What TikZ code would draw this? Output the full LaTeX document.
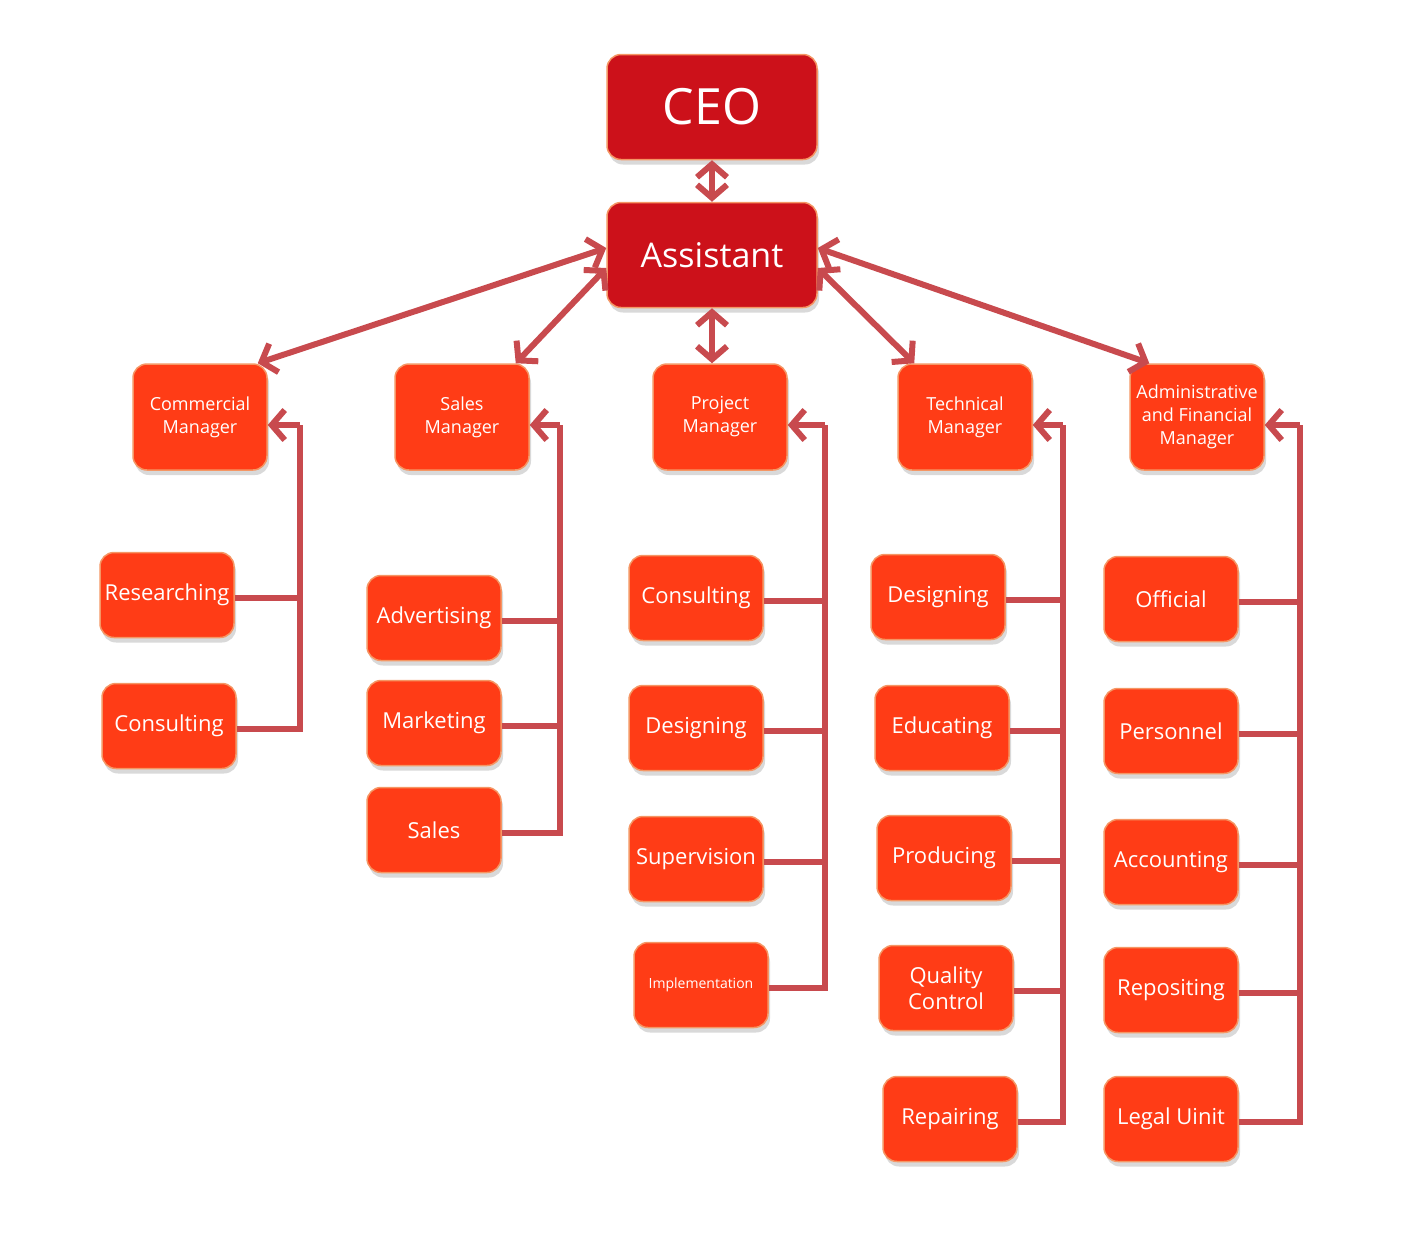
\documentclass[tikz,border=0pt]{standalone}
\usepackage{fontspec}
\setmainfont{Open Sans}
\usetikzlibrary{arrows.meta,shadows}
\definecolor{topred}{RGB}{204,17,26}
\definecolor{boxred}{RGB}{255,60,22}
\definecolor{rim}{RGB}{245,150,100}
\definecolor{linkred}{RGB}{200,74,78}
\tikzset{
  box/.style={draw=rim,line width=1.5pt,fill=boxred,text=white,rounded corners=14pt,
    align=center,inner sep=0pt,minimum width=134pt,minimum height=85pt,font=\fontsize{22}{26}\selectfont,
    drop shadow={shadow xshift=2pt,shadow yshift=-5pt,opacity=.25,fill=black!60}},
  mgr/.style={box,minimum height=106pt,font=\fontsize{18}{23}\selectfont},
  top/.style={box,fill=topred,minimum width=210pt,minimum height=105pt},
  link/.style={draw=linkred,line width=6pt},
  tip/.style={-{Straight Barb[length=13pt,width=30pt]}},
  both/.style={{Straight Barb[length=13pt,width=30pt]}-{Straight Barb[length=13pt,width=30pt]}}
}
\begin{document}
\begin{tikzpicture}[x=1pt,y=-1pt]
      \useasboundingbox (0,0) rectangle (1428,1235);
      % top of the chart
      \node[top,font=\fontsize{50}{56}\selectfont] (ceo) at (712,107) {CEO};
      \node[top,font=\fontsize{34}{40}\selectfont] (asst) at (712,255) {Assistant};
      % managers
      \node[mgr] (cm) at (200,417) {Commercial\\Manager};
      \node[mgr] (sm) at (462,417) {Sales\\Manager};
      \node[mgr] (pm) at (720,417) {Project\\Manager};
      \node[mgr] (tm) at (965,417) {Technical\\Manager};
      \node[mgr] (am) at (1197,417) {Administrative\\and Financial\\Manager};
      % units
      \foreach \name/\x/\y/\txt in {cmA/167/595/Researching,cmB/169/726/Consulting,
          smA/434/618/Advertising,smB/434/723/Marketing,smC/434/830/Sales,
          pmA/696/598/Consulting,pmB/696/728/Designing,pmC/696/859/Supervision,
          tmA/938/597/Designing,tmB/942/728/Educating,tmC/944/858/Producing,
          tmD/946/988/{Quality\\Control},tmE/950/1119/Repairing,
          amA/1171/599/Official,amB/1171/731/Personnel,amC/1171/862/Accounting,
          amD/1171/990/Repositing,amE/1171/1119/Legal Uinit}
        \node[box] (\name) at (\x,\y) {\txt};
      \node[box,font=\fontsize{14}{17}\selectfont] (pmD) at (701,985) {Implementation};
      % arrows from the assistant
      \draw[link,both] (ceo) -- (asst);
      \draw[link,both] (asst) -- (asst |- pm.north);
      \draw[link,both] ([yshift=7pt]asst.west) -- ([xshift=-10pt]cm.north east);
      \draw[link,both] ([yshift=-13pt]asst.west) -- ([xshift=-14pt]sm.north east);
      \draw[link,both] ([yshift=-13pt]asst.east) -- ([xshift=17pt]tm.north west);
      \draw[link,both] ([yshift=7pt]asst.east) -- ([xshift=20pt]am.north west);
      % buses
      \coordinate (cmbus) at (300,425);
      \coordinate (smbus) at (560,425);
      \coordinate (pmbus) at (825,425);
      \coordinate (tmbus) at (1063,425);
      \coordinate (ambus) at (1300,425);
      \foreach \m in {cm,sm,pm,tm,am}
        \draw[link,tip] (\m bus) -- (\m bus -| \m.east);
      \foreach \m/\u in {cm/cmA,cm/cmB,sm/smA,sm/smB,sm/smC,pm/pmA,pm/pmB,pm/pmC,pm/pmD,
          tm/tmA,tm/tmB,tm/tmC,tm/tmD,tm/tmE,am/amA,am/amB,am/amC,am/amD,am/amE}
        \draw[link] ([yshift=-3pt]\u.east) -| (\m bus);
\end{tikzpicture}
\end{document}
